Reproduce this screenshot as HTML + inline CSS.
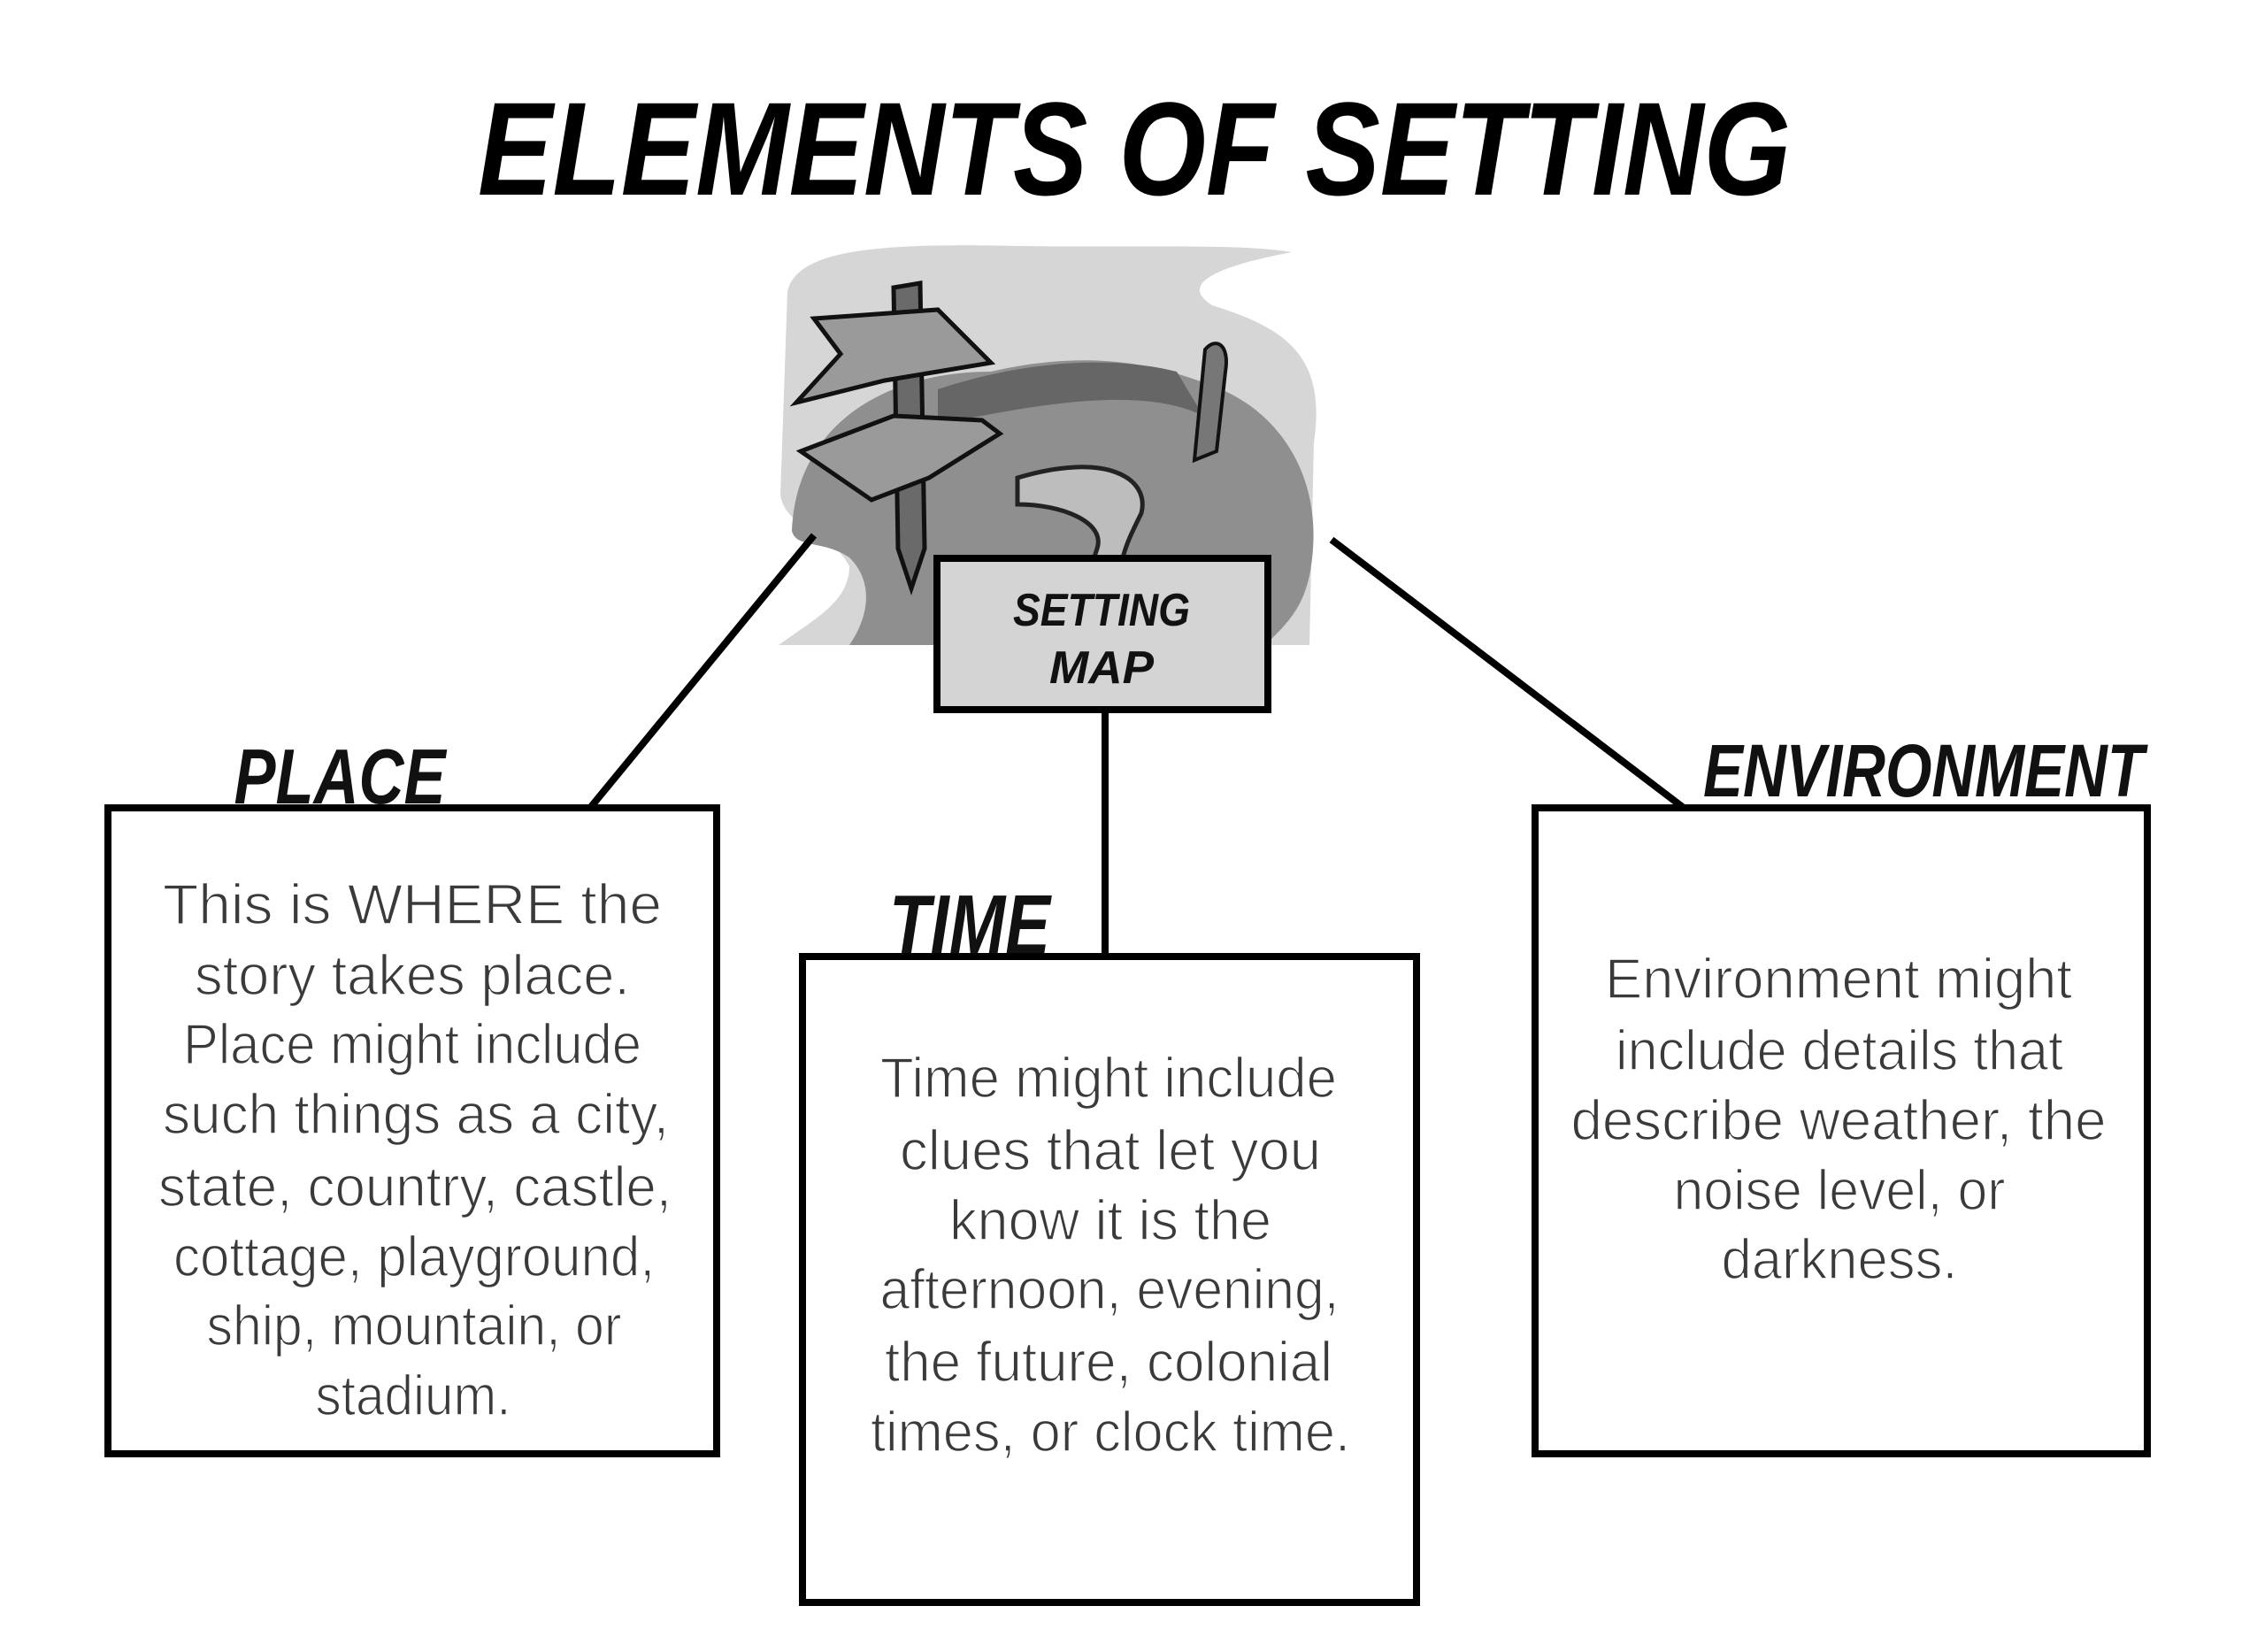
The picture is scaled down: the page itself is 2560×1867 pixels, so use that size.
<!DOCTYPE html>
<html><head><meta charset="utf-8"><style>html,body{margin:0;padding:0;background:#fff}svg{display:block}</style></head>
<body>
<svg width="2560" height="1867" viewBox="0 0 2560 1867" xmlns="http://www.w3.org/2000/svg">
<rect width="2560" height="1867" fill="#fff"/>
<text x="1282" y="220" font-family="Liberation Sans, sans-serif" font-weight="bold" font-style="italic" font-size="150" textLength="1484" lengthAdjust="spacingAndGlyphs" text-anchor="middle" fill="#000">ELEMENTS OF SETTING</text>
<!-- picture -->
<path d="M890 330 C900 280 1000 275 1150 278 C1300 280 1400 275 1460 285 C1380 300 1330 320 1370 345 C1450 370 1500 400 1485 500 L1480 729 L880 729 C920 700 960 680 960 640 C940 600 890 600 882 560 Z" fill="#d6d6d6"/>
<path d="M895 600 C900 480 1000 420 1120 420 C1250 390 1330 420 1380 440 C1450 470 1490 540 1484 620 C1480 680 1460 700 1430 729 L960 729 C980 700 990 660 960 630 C930 610 900 620 895 600 Z" fill="#8f8f8f"/>
<path d="M1060 440 C1150 410 1250 400 1330 420 L1360 470 C1300 440 1200 450 1060 480 Z" fill="#666"/>
<path d="M1150 540 C1250 510 1300 540 1290 580 C1270 620 1250 660 1290 690 C1320 710 1390 700 1410 729 L1230 729 C1220 680 1230 650 1240 620 C1250 590 1200 570 1150 570 Z" fill="#bdbdbd" stroke="#222" stroke-width="5"/>
<path d="M1010 325 L1040 320 L1045 620 L1030 665 L1015 620 Z" fill="#6a6a6a" stroke="#111" stroke-width="5"/>
<path d="M920 360 L1060 350 L1120 410 L1000 430 L900 455 L950 400 Z" fill="#9a9a9a" stroke="#111" stroke-width="5"/>
<path d="M905 510 L1010 470 L1110 475 L1130 490 L1050 540 L985 565 Z" fill="#9a9a9a" stroke="#111" stroke-width="5"/>
<path d="M1362 395 C1375 380 1390 390 1385 420 L1375 510 L1350 520 Z" fill="#777" stroke="#111" stroke-width="4"/>
<!-- connectors -->
<line x1="667" y1="913" x2="920" y2="605" stroke="#000" stroke-width="8"/>
<line x1="1903" y1="913" x2="1505" y2="610" stroke="#000" stroke-width="8"/>
<line x1="1249" y1="805" x2="1249" y2="1080" stroke="#000" stroke-width="8"/>
<!-- setting map box -->
<rect x="1059" y="631" width="374" height="171" fill="#d4d4d4" stroke="#000" stroke-width="8"/>
<g font-family="Liberation Sans, sans-serif" font-weight="bold" font-style="italic" fill="#111" text-anchor="middle">
<text x="1245" y="707" font-size="52" textLength="200" lengthAdjust="spacingAndGlyphs">SETTING</text>
<text x="1245" y="772" font-size="52" textLength="118" lengthAdjust="spacingAndGlyphs">MAP</text>
<text x="384" y="908" font-size="88" textLength="239" lengthAdjust="spacingAndGlyphs">PLACE</text>
<text x="1096" y="1078" font-size="96" textLength="182" lengthAdjust="spacingAndGlyphs">TIME</text>
<text x="2174" y="900" font-size="84" textLength="498" lengthAdjust="spacingAndGlyphs">ENVIRONMENT</text>
</g>
<!-- boxes -->
<rect x="122" y="913" width="688" height="730" fill="none" stroke="#000" stroke-width="8"/>
<rect x="907" y="1081" width="694" height="730" fill="none" stroke="#000" stroke-width="8"/>
<rect x="1735" y="913" width="692" height="730" fill="none" stroke="#000" stroke-width="8"/>
<g font-family="Liberation Sans, sans-serif" font-size="64" fill="#3a3a3a" stroke="#fff" stroke-width="1.5" paint-order="fill" text-anchor="middle">
<text x="466" y="1044" textLength="564" lengthAdjust="spacingAndGlyphs">This is WHERE the</text>
<text x="466" y="1124" textLength="492" lengthAdjust="spacingAndGlyphs">story takes place.</text>
<text x="466" y="1202" textLength="518" lengthAdjust="spacingAndGlyphs">Place might include</text>
<text x="470" y="1281" textLength="572" lengthAdjust="spacingAndGlyphs">such things as a city,</text>
<text x="469" y="1363" textLength="580" lengthAdjust="spacingAndGlyphs">state, country, castle,</text>
<text x="468" y="1442" textLength="544" lengthAdjust="spacingAndGlyphs">cottage, playground,</text>
<text x="468" y="1520" textLength="469" lengthAdjust="spacingAndGlyphs">ship, mountain, or</text>
<text x="467" y="1599" textLength="221" lengthAdjust="spacingAndGlyphs">stadium.</text>
<text x="1253" y="1240" textLength="516" lengthAdjust="spacingAndGlyphs">Time might include</text>
<text x="1255" y="1322" textLength="476" lengthAdjust="spacingAndGlyphs">clues that let you</text>
<text x="1255" y="1401" textLength="364" lengthAdjust="spacingAndGlyphs">know it is the</text>
<text x="1254" y="1479" textLength="519" lengthAdjust="spacingAndGlyphs">afternoon, evening,</text>
<text x="1253" y="1561" textLength="506" lengthAdjust="spacingAndGlyphs">the future, colonial</text>
<text x="1255" y="1640" textLength="542" lengthAdjust="spacingAndGlyphs">times, or clock time.</text>
<text x="2078" y="1128" textLength="528" lengthAdjust="spacingAndGlyphs">Environment might</text>
<text x="2079" y="1209" textLength="506" lengthAdjust="spacingAndGlyphs">include details that</text>
<text x="2078" y="1288" textLength="605" lengthAdjust="spacingAndGlyphs">describe weather, the</text>
<text x="2079" y="1367" textLength="375" lengthAdjust="spacingAndGlyphs">noise level, or</text>
<text x="2079" y="1445" textLength="267" lengthAdjust="spacingAndGlyphs">darkness.</text>
</g>
</svg>
</body></html>
